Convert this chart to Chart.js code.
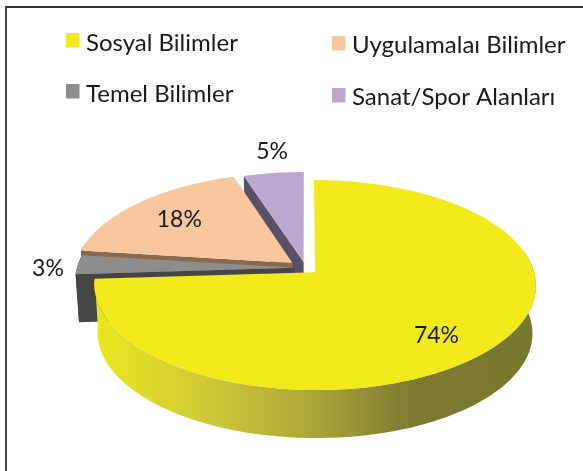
<!DOCTYPE html>
<html lang="tr">
<head>
  <meta charset="UTF-8">
  <title>Alanlara göre dağılım</title>
  <script src="https://cdn.jsdelivr.net/npm/chart.js"></script>
  <style>
    html, body { margin: 0; padding: 0; background: #fff; overflow: hidden; }
    #frame {
      position: absolute; left: 5px; top: 6px; width: 590px; height: 463px;
      border-left: 2px solid #444; border-top: 2px solid #333; border-bottom: 2px solid #999;
    }
    canvas { position: absolute; left: 0; top: 0; }
  </style>
</head>
<body>
  <div id="frame"></div>
  <canvas id="pieChart" width="583" height="471"></canvas>

  <script>
    // slice order is clockwise from 12 o'clock
    const labels = ['Sosyal Bilimler', 'Temel Bilimler', 'Uygulamalaı Bilimler', 'Sanat/Spor Alanları'];
    const values = [74, 3, 18, 5];
    const colors = ['#f2ea1b', '#8d8d8d', '#f8c79d', '#b9a9cf'];
    const edgeColors = [null, '#454545', '#8a6a4e', '#5b5068'];
    const rimColors = [null, '#454545', '#8a6a4e', '#5b5068'];
    const offsets = [48, 40, 64, 48];
    const labelReach = [0.75, 1.12, 0.66, 1.25];
    const labelNudge = [[-7, 7], [-4, 4], [-9, -3], [5, -2]];
    const legendSpots = [[66, 33, 86, 51], [66, 84, 86, 102], [332, 36, 352, 53], [332, 88, 352, 105]];

    // tilted disc: perspective projection of the unit circle
    const view = { cx: 305.6, cy: 268, rx: 218, ry: 102.4, tilt: 0.122, depth: 48 };

    function project(u, v, low) {
      const s = 1 / (1 - view.tilt * v);
      return [
        view.cx + view.rx * u * s * (low ? 0.985 : 1),
        view.cy + view.ry * v * s + (low ? view.depth : 0)
      ];
    }

    function sliceGeometry(arc) {
      const { startAngle, endAngle, outerRadius } = arc;
      const mid = (startAngle + endAngle) / 2;
      const shift = (arc.options.offset / 4) / outerRadius;
      return { startAngle, endAngle, mid, ox: Math.cos(mid) * shift, oy: Math.sin(mid) * shift };
    }

    // frontOnly drops the back of the rim, which the top face hides anyway
    function rimPoints(g, low, frontOnly) {
      const pts = [];
      const n = Math.ceil((g.endAngle - g.startAngle) / 0.02);
      for (let i = 0; i <= n; i++) {
        const a = g.startAngle + (g.endAngle - g.startAngle) * i / n;
        if (frontOnly && Math.sin(a) < -0.2) continue;
        pts.push(project(g.ox + Math.cos(a), g.oy + Math.sin(a), low));
      }
      return pts;
    }

    function fillPoly(ctx, pts, fill) {
      ctx.beginPath();
      pts.forEach((p, i) => i ? ctx.lineTo(p[0], p[1]) : ctx.moveTo(p[0], p[1]));
      ctx.closePath();
      ctx.fillStyle = fill;
      ctx.fill();
    }

    const tiltedPie = {
      id: 'tiltedPie',
      beforeDatasetDraw(chart) {
        const ctx = chart.ctx;
        const arcs = chart.getDatasetMeta(0).data;
        const sideFill = ctx.createLinearGradient(100, 0, 530, 0);
        sideFill.addColorStop(0, '#e9e61f');
        sideFill.addColorStop(0.25, '#cdc935');
        sideFill.addColorStop(0.5, '#aaa53b');
        sideFill.addColorStop(0.72, '#7e7a30');
        sideFill.addColorStop(1, '#78782f');

        // back slices first, yellow last
        [3, 2, 1, 0].forEach(i => {
          const g = sliceGeometry(arcs[i]);
          const top = rimPoints(g, false);
          const apex = project(g.ox, g.oy, false);
          const apexLow = project(g.ox, g.oy, true);
          const wall = rimPoints(g, false, true).concat(rimPoints(g, true, true).reverse());
          fillPoly(ctx, wall, rimColors[i] || sideFill);
          if (edgeColors[i]) {
            fillPoly(ctx, [apex, top[0], project(g.ox + Math.cos(g.startAngle), g.oy + Math.sin(g.startAngle), true), apexLow], edgeColors[i]);
          }
          fillPoly(ctx, [apex].concat(top), colors[i]);
        });
        return false;
      },
      afterDraw(chart) {
        const ctx = chart.ctx;
        const arcs = chart.getDatasetMeta(0).data;
        ctx.save();
        ctx.textBaseline = 'alphabetic';
        ctx.font = '24px Lato';
        ctx.textAlign = 'left';
        labels.forEach((text, i) => {
          const [bx, by, tx, ty] = legendSpots[i];
          ctx.fillStyle = colors[i];
          ctx.fillRect(bx, by, 13.5, 14.5);
          ctx.fillStyle = '#1a1a1a';
          ctx.fillText(text, tx, ty);
        });
        ctx.font = '23px Lato';
        ctx.textAlign = 'center';
        ctx.textBaseline = 'middle';
        values.forEach((v, i) => {
          const g = sliceGeometry(arcs[i]);
          const r = labelReach[i];
          const p = project(g.ox + Math.cos(g.mid) * r, g.oy + Math.sin(g.mid) * r, false);
          ctx.fillText(v + '%', p[0] + labelNudge[i][0], p[1] + labelNudge[i][1]);
        });
        ctx.restore();
      }
    };

    new Chart(document.getElementById('pieChart'), {
      type: 'pie',
      data: {
        labels: labels,
        datasets: [{
          data: values,
          backgroundColor: colors,
          borderWidth: 0,
          offset: offsets
        }]
      },
      options: {
        responsive: false,
        animation: false,
        plugins: {
          legend: { display: false },
          tooltip: { enabled: false }
        }
      },
      plugins: [tiltedPie]
    });
  </script>
</body>
</html>
